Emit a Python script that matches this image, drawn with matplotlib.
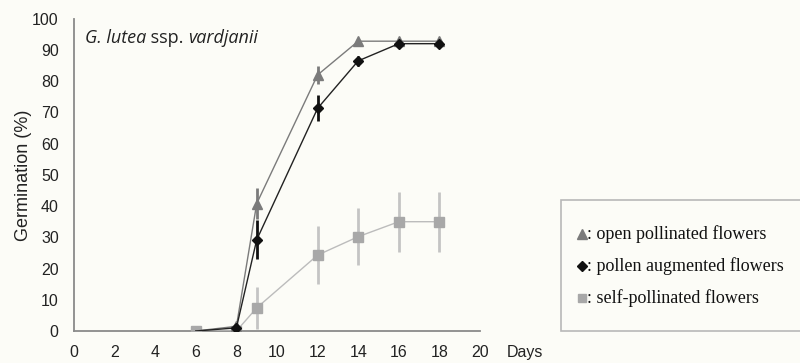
import matplotlib
matplotlib.use("Agg")
import matplotlib.pyplot as plt
from matplotlib.lines import Line2D

# Germination time course (days after sowing)
days = [6, 8, 9, 12, 14, 16, 18]
open_pollinated = [0, 1.5, 40.8, 82, 92.8, 92.8, 92.8]
open_err = [0, 0, 5, 3, 1, 1, 1]
pollen_augmented = [0, 1.0, 29.2, 71.3, 86.5, 92, 92]
pollen_err = [0, 0, 6.2, 4.2, 1.5, 1, 1]
self_pollinated = [0, 0, 7.4, 24.3, 30.2, 35, 35]
self_err = [0, 0, 6.8, 9.2, 9.1, 9.6, 9.6]

xticks = list(range(0, 21, 2))
yticks = list(range(0, 101, 10))

bg = "#fcfcf7"
c_open = "#7b7b7b"
c_poll = "#111111"
c_self = "#a8a8a8"
c_self_line = "#bcbcbc"
txt = "#222222"

fig = plt.figure(figsize=(8, 3.63), dpi=100, facecolor=bg)
ax = fig.add_axes([74 / 800, 1 - 331 / 363, (480 - 74) / 800, (331 - 18.7) / 363])
ax.set_facecolor(bg)

# self-pollinated
ax.errorbar(days, self_pollinated, yerr=self_err, fmt="none", ecolor="#c4c4c4",
            elinewidth=2.0, capsize=0, zorder=2)
ax.plot(days, self_pollinated, color=c_self_line, lw=1.0, zorder=3)
ax.plot(days, self_pollinated, ls="none", marker="s", ms=7, color=c_self,
        mec=c_self, zorder=4)

# open pollinated
ax.errorbar(days, open_pollinated, yerr=open_err, fmt="none", ecolor=c_open,
            elinewidth=2.0, capsize=0, zorder=5)
ax.plot(days, open_pollinated, color=c_open, lw=1.0, zorder=5)
ax.plot(days[1:], open_pollinated[1:], ls="none", marker="^", ms=6.5, color=c_open,
        zorder=6)

# pollen augmented
ax.errorbar(days, pollen_augmented, yerr=pollen_err, fmt="none", ecolor=c_poll,
            elinewidth=2.0, capsize=0, zorder=7)
ax.plot(days, pollen_augmented, color="#222222", lw=1.0, zorder=7)
ax.plot(days[1:], pollen_augmented[1:], ls="none", marker="D", ms=5, color=c_poll,
        zorder=8)

ax.set_xlim(0, 20)
ax.set_ylim(0, 100)
ax.set_xticks(xticks)
ax.set_yticks(yticks)
ax.tick_params(length=0, labelsize=11.5, labelcolor=txt)
ax.tick_params(axis="x", pad=10)
ax.tick_params(axis="y", pad=11)
for lab in ax.get_xticklabels() + ax.get_yticklabels():
    lab.set_fontfamily("Liberation Sans")
for s in ("top", "right"):
    ax.spines[s].set_visible(False)
for s in ("left", "bottom"):
    ax.spines[s].set_color("#8a8a8a")
    ax.spines[s].set_linewidth(1.3)

ax.set_ylabel("Germination (%)", fontsize=13, family="Liberation Sans",
              color=txt, labelpad=0)
fig.text(507 / 800, 1 - 353 / 363, "Days", fontsize=11.5, family="Liberation Sans",
         color=txt, va="center", ha="left")

# species name: italic genus/epithet, upright rank
t1 = fig.text(85 / 800, 1 - 38 / 363, "G. lutea", fontsize=13, family="Open Sans",
              style="italic", color=txt, va="center")
t2 = ax.annotate(" ssp. ", xy=(1, 0), xycoords=t1, va="bottom", ha="left",
                 fontsize=13, family="Open Sans", color=txt)
ax.annotate("vardjanii", xy=(1, 0), xycoords=t2, va="bottom", ha="left",
            fontsize=13, family="Open Sans", style="italic", color=txt)

# legend box
box = plt.Rectangle((561 / 800, 1 - 330.7 / 363), 1.0, (330.7 - 200) / 363,
                    transform=fig.transFigure, facecolor=bg, edgecolor="#b8b8b8",
                    lw=1.2, clip_on=False)
fig.add_artist(box)
entries = [
    ("^", c_open, 6.5, ": open pollinated flowers", 234),
    ("D", c_poll, 5, ": pollen augmented flowers", 266),
    ("s", c_self, 6, ": self-pollinated flowers", 298),
]
for mk, col, ms, label, yy in entries:
    yf = 1 - yy / 363
    fig.add_artist(Line2D([582 / 800], [yf], marker=mk, ms=ms, color=col, ls="none",
                          transform=fig.transFigure))
    fig.text(587 / 800, yf, label, fontsize=13, family="Liberation Serif",
             color="#111111", va="center", ha="left")

fig.savefig("out.png", dpi=100, facecolor=bg)
